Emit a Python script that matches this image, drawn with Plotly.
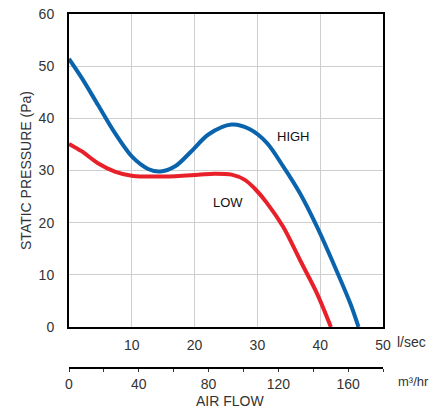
import plotly.graph_objects as go

# Data (air flow in l/sec, static pressure in Pa)
high_x = [0, 2.0, 4.6, 7.3, 10.0, 12.6, 14.5, 16.9, 19.5, 22.2, 25.9, 28.8, 31.5, 34.1, 36.8, 39.5, 42.1, 44.8, 46.1]
high_y = [51.4, 47.8, 42.6, 37.2, 32.7, 30.3, 29.8, 30.8, 33.7, 36.9, 38.8, 37.9, 35.3, 30.8, 25.6, 19.2, 12.2, 4.5, 0]

low_x = [0, 2.0, 4.6, 7.3, 10.0, 15.3, 20.6, 23.2, 25.9, 28.0, 29.6, 31.5, 34.1, 36.8, 39.5, 41.7]
low_y = [35.1, 33.7, 31.4, 29.8, 29.0, 28.85, 29.2, 29.4, 29.2, 28.2, 26.5, 23.8, 19.2, 12.8, 6.4, 0]

lsec_ticks = [10, 20, 30, 40, 50]
pa_ticks = [0, 10, 20, 30, 40, 50, 60]
m3hr_ticks = [0, 20, 40, 60, 80, 100, 120, 140, 160, 180]
m3hr_labels = ["0", "", "40", "", "80", "", "120", "", "160", ""]

FONT = "Liberation Sans, Arial, Helvetica, sans-serif"
TXT = "#333333"

fig = go.Figure()
fig.add_trace(go.Scatter(x=high_x, y=high_y, mode="lines", line=dict(color="#0a64ad", width=4, shape="spline", smoothing=0.9), showlegend=False, hoverinfo="skip"))
fig.add_trace(go.Scatter(x=low_x, y=low_y, mode="lines", line=dict(color="#e8202a", width=4, shape="spline", smoothing=0.9), showlegend=False, hoverinfo="skip"))
# dummy trace to activate secondary x axis
fig.add_trace(go.Scatter(x=[0, 180], y=[None, None], xaxis="x2", yaxis="y", mode="lines", showlegend=False, hoverinfo="skip"))

# the page body has an 8px margin; work in reference pixel coords and shift
OFF = 8
W = 447 - OFF
H = 410 - OFF
ml, mr, mt, mb = 69 - OFF, 64, 14 - OFF, 2
ph = H - mt - mb
pw = W - ml - mr


def px(xp):
    return (xp - OFF - ml) / pw


def py(yp):
    return (H - mb - (yp - OFF)) / ph


ybot = py(327)
xax2pos = py(368)

fig.update_layout(
    width=W, height=H,
    margin=dict(l=ml, r=mr, t=mt, b=mb, autoexpand=False),
    paper_bgcolor="white", plot_bgcolor="white",
    font=dict(family=FONT, size=14, color=TXT),
    xaxis=dict(range=[0, 50], tickvals=lsec_ticks, showgrid=True, gridcolor="#cfcfcf", gridwidth=1,
               showline=True, linecolor="black", linewidth=2, mirror=True, zeroline=False, automargin=False,
               ticks="", ticklabelstandoff=4, ticklabeloverflow="allow", tickfont=dict(size=14, color=TXT), anchor="y"),
    yaxis=dict(range=[0, 60], tickvals=pa_ticks, domain=[ybot, 1], showgrid=True, gridcolor="#cfcfcf", gridwidth=1,
               showline=True, linecolor="black", linewidth=2, mirror=True, zeroline=False, automargin=False,
               ticks="", ticklabelstandoff=10, ticklabeloverflow="allow", tickfont=dict(size=14, color=TXT),
               title=dict(text="STATIC PRESSURE (Pa)", font=dict(size=14, color=TXT), standoff=4)),
    xaxis2=dict(range=[0, 180], tickvals=m3hr_ticks, ticktext=m3hr_labels, overlaying="x", anchor="free",
                position=xax2pos, side="bottom", showgrid=False, zeroline=False, automargin=False,
                showline=True, linecolor="black", linewidth=2, ticks="outside", ticklen=3, tickcolor="#333",
                tickwidth=1, ticklabeloverflow="allow", tickfont=dict(size=14, color=TXT)),
    annotations=[
        dict(text="HIGH", x=35.8, y=36.6, xref="x", yref="y", showarrow=False, font=dict(size=13, color="#111")),
        dict(text="LOW", x=25.3, y=23.8, xref="x", yref="y", showarrow=False, font=dict(size=13, color="#111")),
        dict(text="l/sec", x=px(395), y=py(341.5), xref="paper", yref="paper", xanchor="left", yanchor="middle",
             showarrow=False, font=dict(size=14, color=TXT)),
        dict(text="m³/hr", x=px(396), y=py(381.5), xref="paper", yref="paper", xanchor="left", yanchor="middle",
             showarrow=False, font=dict(size=13, color=TXT)),
        dict(text="AIR FLOW", x=px(230), y=py(401), xref="paper", yref="paper", xanchor="center", yanchor="middle",
             showarrow=False, font=dict(size=14, color=TXT)),
    ],
)

fig.write_html("out.html")
